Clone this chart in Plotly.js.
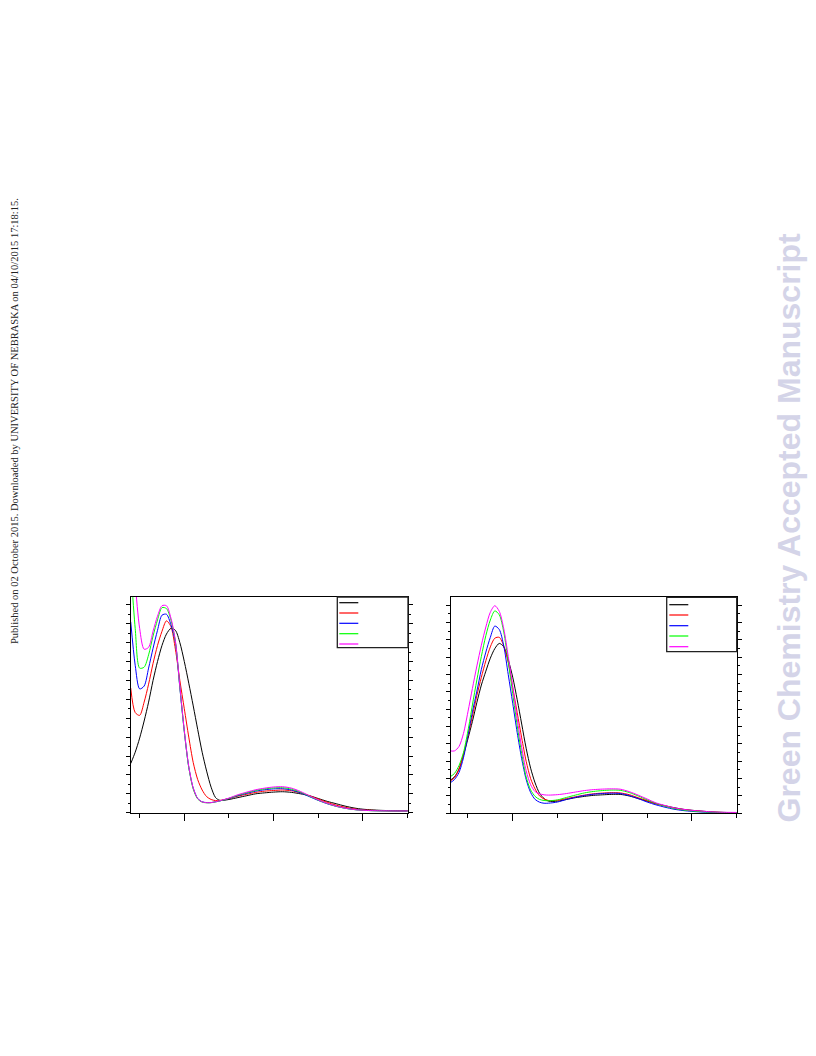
<!DOCTYPE html>
<html><head><meta charset="utf-8">
<script src="https://cdn.plot.ly/plotly-3.0.1.min.js"></script>
<style>html,body{margin:0;padding:0;background:#fff}#chart{width:816px;height:1056px}</style>
</head><body><div id="chart"></div>
<script>
// ---------- data (left panel) ----------
const wavelengthLeft = [240,245,250,255,260,265,270,275,280,285,290,295,300,305,310,315,320,325,330,335,340,
  350,360,370,380,390,400,410,420,430,440,450,460,470,480,490,500,510,520,530,540,550];
const leftBlack = [0.52,0.64,0.79,0.97,1.17,1.40,1.60,1.77,1.89,1.95,1.93,1.80,1.60,1.37,1.13,0.88,0.64,0.44,0.27,0.16,0.13,
  0.14,0.16,0.18,0.20,0.21,0.218,0.222,0.215,0.20,0.18,0.15,0.12,0.095,0.07,0.05,0.037,0.03,0.025,0.022,0.02,0.02];
const leftRed = [1.32,1.06,1.03,1.17,1.36,1.58,1.77,1.92,2.03,1.97,1.73,1.40,1.10,0.80,0.53,0.35,0.24,0.17,0.14,0.128,0.13,
  0.15,0.175,0.195,0.215,0.228,0.235,0.24,0.232,0.21,0.18,0.145,0.11,0.08,0.058,0.04,0.03,0.025,0.022,0.02,0.02,0.02];
const leftBlue = [2.02,1.56,1.31,1.34,1.53,1.74,1.93,2.09,2.10,1.99,1.80,1.32,0.86,0.48,0.26,0.15,0.115,0.107,0.107,0.115,0.125,
  0.15,0.18,0.205,0.228,0.243,0.252,0.254,0.24,0.21,0.17,0.13,0.095,0.068,0.048,0.034,0.026,0.022,0.02,0.019,0.018,0.018];
const leftGreen = [2.6,1.95,1.53,1.54,1.67,1.87,2.04,2.17,2.16,2.04,1.81,1.33,0.86,0.48,0.25,0.145,0.112,0.105,0.106,0.115,0.125,
  0.152,0.185,0.212,0.236,0.252,0.262,0.265,0.25,0.218,0.175,0.133,0.097,0.068,0.047,0.033,0.025,0.021,0.019,0.018,0.017,0.017];
const leftMagenta = [3.4,2.45,1.95,1.73,1.75,1.92,2.08,2.19,2.19,2.06,1.82,1.34,0.87,0.49,0.26,0.15,0.114,0.106,0.107,0.116,0.127,
  0.155,0.19,0.218,0.243,0.26,0.272,0.275,0.26,0.225,0.18,0.136,0.099,0.07,0.048,0.034,0.026,0.022,0.02,0.019,0.018,0.018];

// ---------- data (right panel) ----------
const wavelengthRight = [230,235,240,245,250,255,260,265,270,275,280,285,290,295,300,305,310,315,320,325,330,335,340,
  350,360,370,380,390,400,410,420,430,440,450,460,470,480,490,500,510,520,530,540,550];
const rightBlack = [0.38,0.42,0.51,0.67,0.86,1.06,1.28,1.48,1.64,1.79,1.90,1.96,1.92,1.77,1.57,1.31,1.03,0.75,0.52,0.35,0.23,0.17,0.14,
  0.14,0.16,0.18,0.195,0.207,0.213,0.218,0.218,0.20,0.17,0.14,0.11,0.087,0.065,0.047,0.035,0.026,0.018,0.012,0.009,0.007];
const rightRed = [0.37,0.41,0.51,0.68,0.89,1.12,1.36,1.57,1.76,1.92,2.02,2.03,1.93,1.74,1.45,1.16,0.87,0.60,0.40,0.28,0.20,0.165,0.148,
  0.15,0.17,0.19,0.21,0.225,0.233,0.238,0.235,0.215,0.18,0.145,0.11,0.085,0.06,0.044,0.032,0.023,0.016,0.011,0.008,0.007];
const rightBlue = [0.35,0.39,0.47,0.64,0.90,1.17,1.41,1.66,1.86,2.03,2.16,2.12,1.93,1.60,1.27,0.93,0.63,0.39,0.24,0.16,0.128,0.116,0.117,
  0.13,0.16,0.185,0.205,0.22,0.228,0.232,0.228,0.205,0.17,0.13,0.097,0.07,0.047,0.032,0.022,0.015,0.011,0.008,0.007,0.006];
const rightGreen = [0.42,0.46,0.55,0.70,0.95,1.25,1.54,1.81,2.05,2.23,2.335,2.29,2.09,1.75,1.38,1.01,0.69,0.42,0.27,0.195,0.16,0.148,0.145,
  0.155,0.183,0.21,0.235,0.252,0.262,0.268,0.265,0.24,0.20,0.155,0.115,0.082,0.056,0.039,0.027,0.019,0.014,0.011,0.009,0.008];
const rightMagenta = [0.72,0.72,0.77,0.92,1.17,1.44,1.70,1.94,2.15,2.32,2.395,2.33,2.13,1.81,1.46,1.09,0.76,0.49,0.33,0.25,0.225,0.213,0.21,
  0.215,0.228,0.245,0.262,0.273,0.279,0.282,0.278,0.25,0.21,0.165,0.12,0.09,0.064,0.046,0.034,0.026,0.018,0.013,0.011,0.01];

const seriesColors = ['#000000','#ff0000','#0000ff','#00ff00','#ff00ff'];
const leftSeries = [leftBlack, leftRed, leftBlue, leftGreen, leftMagenta];
const rightSeries = [rightBlack, rightRed, rightBlue, rightGreen, rightMagenta];

// ---------- build ----------
const W = 816, H = 1056;
const px = v => v / W;
const py = v => 1 - v / H;

const traces = [];
leftSeries.forEach((ys, i) => traces.push({
  x: wavelengthLeft, y: ys, type: 'scatter', mode: 'lines', xaxis: 'x', yaxis: 'y',
  line: {color: seriesColors[i], width: 1, shape: 'spline', smoothing: 0.8}, hoverinfo: 'skip'
}));
rightSeries.forEach((ys, i) => traces.push({
  x: wavelengthRight, y: ys, type: 'scatter', mode: 'lines', xaxis: 'x2', yaxis: 'y2',
  line: {color: seriesColors[i], width: 1, shape: 'spline', smoothing: 0.8}, hoverinfo: 'skip'
}));

function xAxis(domain, range, anchor) {
  return {domain, range, anchor, showline: true, linecolor: '#000', linewidth: 1, mirror: true,
    ticks: 'outside', ticklen: 7, tickwidth: 1, tickcolor: '#000', tick0: 0, dtick: 100,
    minor: {ticks: 'outside', ticklen: 4, tickwidth: 1, tickcolor: '#000', dtick: 50, showgrid: false},
    showticklabels: false, showgrid: false, zeroline: false, fixedrange: true};
}
function yAxis(domain, range, anchor) {
  return {domain, range, anchor, showline: true, linecolor: '#000', linewidth: 1, mirror: 'ticks',
    ticks: 'outside', ticklen: 4, tickwidth: 1, tickcolor: '#000', tick0: 0, dtick: 0.2,
    minor: {ticks: 'outside', ticklen: 2, tickwidth: 1, tickcolor: '#000', dtick: 0.1, showgrid: false},
    showticklabels: false, showgrid: false, zeroline: false, fixedrange: true};
}

const shapes = [];
function legend(box, lineX0, lineX1, lineYs) {
  shapes.push({type: 'rect', xref: 'paper', yref: 'paper', x0: px(box[0]), x1: px(box[1]), y0: py(box[3]), y1: py(box[2]),
    line: {color: '#222', width: 1.3}, fillcolor: '#ffffff', layer: 'above'});
  lineYs.forEach((yy, i) => shapes.push({type: 'line', xref: 'paper', yref: 'paper',
    x0: px(lineX0), x1: px(lineX1), y0: py(yy), y1: py(yy), line: {color: seriesColors[i], width: 1.2}, layer: 'above'}));
}
legend([337.3, 408, 597, 647.7], 339.3, 358.3, [602.7, 613, 623.3, 633.7, 644]);
legend([666.7, 736.7, 597.3, 651.7], 669.3, 688.3, [604.7, 615, 625.7, 636, 646.7]);

const layout = {
  width: W, height: H, margin: {l: 0, r: 0, t: 0, b: 0},
  paper_bgcolor: '#ffffff', plot_bgcolor: 'rgba(0,0,0,0)', showlegend: false,
  xaxis: xAxis([px(131), px(408)], [240.3, 550.5], 'y'),
  yaxis: yAxis([py(812.7), py(597)], [0, 2.2825], 'x'),
  xaxis2: xAxis([px(451), px(736.7)], [231.1, 550], 'y2'),
  yaxis2: yAxis([py(813.3), py(597.3)], [0, 2.492], 'x2'),
  shapes,
  annotations: [
    {text: 'Published on 02 October 2015. Downloaded by UNIVERSITY OF NEBRASKA on 04/10/2015 17:18:15.',
     xref: 'paper', yref: 'paper', x: px(14), y: py(421), xanchor: 'center', yanchor: 'middle',
     textangle: -90, showarrow: false, font: {family: 'Liberation Serif, Times New Roman, serif', size: 10.5, color: '#222'}},
    {text: '<b>Green Chemistry Accepted Manuscript</b>',
     xref: 'paper', yref: 'paper', x: px(788), y: py(527.5), xanchor: 'center', yanchor: 'middle',
     textangle: -90, showarrow: false, font: {family: 'Liberation Sans, Arial, sans-serif', size: 32, color: '#d4d4e8'}}
  ]
};

Plotly.newPlot('chart', traces, layout, {staticPlot: true, displayModeBar: false});
</script>
</body></html>
